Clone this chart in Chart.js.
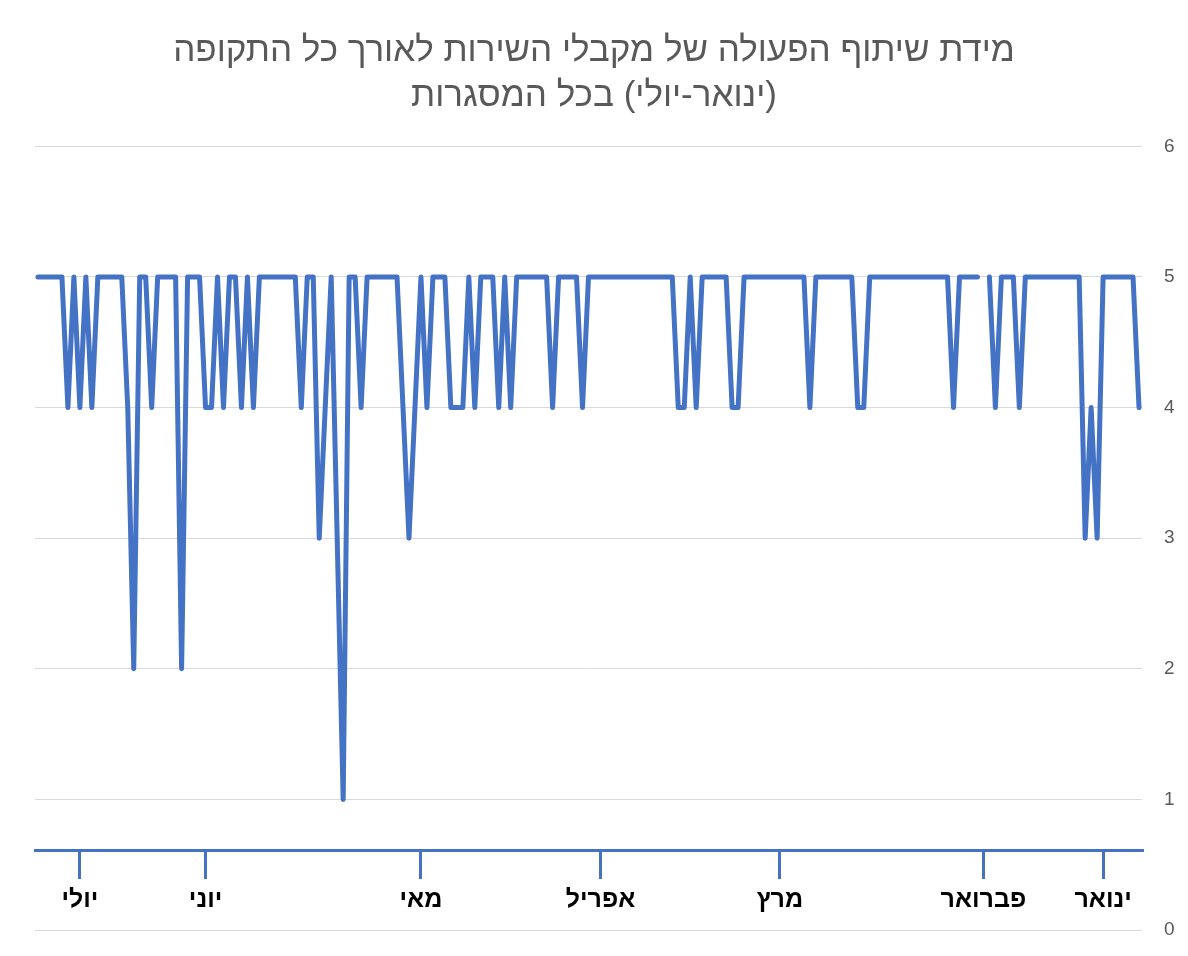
<!DOCTYPE html>
<html lang="he" dir="rtl">
<head>
<meta charset="utf-8">
<title>מידת שיתוף הפעולה</title>
<script src="https://cdn.jsdelivr.net/npm/chart.js@4.4.1/dist/chart.umd.min.js"></script>
<style>
  html, body { margin: 0; padding: 0; background: #ffffff; }
  #wrap { position: relative; width: 1188px; height: 956px; }
</style>
</head>
<body>
<div id="wrap"><canvas id="coopChart"></canvas></div>
<script>
// Chart title (two lines)
const titleLines = [
  "מידת שיתוף הפעולה של מקבלי השירות לאורך כל התקופה",
  "(ינואר-יולי) בכל המסגרות"
];

// Score per record, in chronological order (January first). null = missing record
const scores = [
  4, 5, 5, 5, 5, 5, 5, 3, 4, 3,
  5, 5, 5, 5, 5, 5, 5, 5, 5, 5,
  4, 5, 5, 5, 4, 5, null, 5, 5, 5,
  5, 4, 5, 5, 5, 5, 5, 5, 5, 5,
  5, 5, 5, 5, 5, 5, 4, 4, 5, 5,
  5, 5, 5, 5, 5, 4, 5, 5, 5, 5,
  5, 5, 5, 5, 5, 5, 5, 4, 4, 5,
  5, 5, 5, 5, 4, 5, 4, 4, 5, 5,
  5, 5, 5, 5, 5, 5, 5, 5, 5, 5,
  5, 5, 5, 4, 5, 5, 5, 5, 4, 5,
  5, 5, 5, 5, 5, 4, 5, 4, 5, 5,
  5, 4, 5, 4, 4, 4, 5, 5, 5, 4,
  5, 4, 3, 4, 5, 5, 5, 5, 5, 5,
  4, 5, 5, 1, 3, 5, 4, 3, 5, 5,
  4, 5, 5, 5, 5, 5, 5, 5, 4, 5,
  4, 5, 5, 4, 5, 4, 4, 5, 5, 5,
  2, 5, 5, 5, 5, 4, 5, 5, 2, 4,
  5, 5, 5, 5, 5, 4, 5, 4, 5, 4,
  5, 5, 5, 5, 5
];

// Record numbers used as categories
const records = scores.map((_, i) => String(i + 1));

// Month labels and the record each one is marked at
const monthNames = ["ינואר", "פברואר", "מרץ", "אפריל", "מאי", "יוני", "יולי"];
const monthAt = [6, 26, 60, 90, 120, 156, 177];

// Value axis ticks
const yTicks = [0, 1, 2, 3, 4, 5, 6];

const blue = "#4472C4";
const gray = "#595959";
const fontFamily = "'Liberation Sans', 'DejaVu Sans', Arial, sans-serif";

const ctx = document.getElementById("coopChart").getContext("2d");

new Chart(ctx, {
  type: "line",
  data: {
    labels: records,
    datasets: [{
      label: "שיתוף פעולה",
      data: scores,
      yAxisID: "y",
      borderColor: blue,
      backgroundColor: blue,
      borderWidth: 5,
      borderJoinStyle: "round",
      borderCapStyle: "round",
      pointRadius: 0,
      tension: 0,
      spanGaps: false
    }]
  },
  options: {
    responsive: true,
    maintainAspectRatio: false,
    animation: false,
    layout: { padding: { left: 0, right: 0, top: 0, bottom: 26 } },
    plugins: {
      legend: { display: false },
      tooltip: { enabled: false },
      title: {
        display: true,
        text: titleLines,
        color: gray,
        font: { family: fontFamily, size: 35, weight: "normal", lineHeight: 1.29 },
        padding: { top: 29, bottom: 27 }
      }
    },
    scales: {
      x: {
        type: "category",
        reverse: true,
        offset: true,
        position: { y: 0.61 },
        border: { display: true, color: blue, width: 3 },
        grid: {
          offset: false,
          drawOnChartArea: false,
          drawTicks: true,
          tickLength: 27,
          lineWidth: 3,
          color: (c) => (c.tick && monthAt.includes(c.tick.value)) ? blue : "rgba(0,0,0,0)"
        },
        ticks: {
          autoSkip: false,
          maxRotation: 0,
          minRotation: 0,
          padding: 8,
          color: "#000000",
          font: { family: fontFamily, size: 25, weight: "bold" },
          callback: (value) => {
            const k = monthAt.indexOf(value);
            return k >= 0 ? monthNames[k] : "";
          }
        }
      },
      y: {
        position: "right",
        min: yTicks[0],
        max: yTicks[yTicks.length - 1],
        afterFit: (scale) => {
          scale.width = 46;
          scale.paddingTop = 12;
          scale.paddingBottom = 12;
        },
        border: { display: false },
        grid: { color: "#d9d9d9", lineWidth: 1, drawTicks: false },
        ticks: {
          stepSize: 1,
          padding: 22,
          color: gray,
          font: { family: fontFamily, size: 19 }
        }
      },
      // empty margin axis on the left, keeps the title centred on the page
      yMargin: {
        position: "left",
        display: true,
        afterFit: (scale) => { scale.width = 35; },
        border: { display: false },
        grid: { display: false },
        ticks: { display: false }
      }
    }
  }
});
</script>
</body>
</html>
